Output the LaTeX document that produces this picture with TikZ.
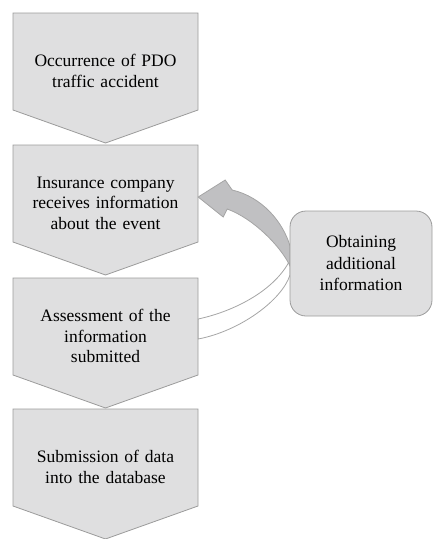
\documentclass[tikz,border=0pt]{standalone}
\usepackage{fontspec}
\setmainfont{Liberation Serif}
\usepackage{pgf,tikz}
\usetikzlibrary{backgrounds}

\definecolor{boxfill}{RGB}{223,223,224}
\definecolor{boxline}{RGB}{155,155,155}
\definecolor{bendfill}{RGB}{192,192,194}
\definecolor{bendline}{RGB}{165,165,165}

\tikzset{
  stepbox/.style={text width=170pt, inner sep=7.5pt, align=center,
    font=\fontsize{17.5}{20.5}\selectfont},
  chevron/.style={fill=boxfill, draw=boxline, line width=0.8pt},
  infobox/.style={fill=boxfill, draw=boxline, line width=0.8pt,
    rounded corners=16pt, minimum width=142pt, minimum height=105pt,
    align=center, font=\fontsize{17.5}{21.5}\selectfont}
}

\begin{document}
\begin{tikzpicture}[x=1pt,y=1pt]
  \useasboundingbox (0,0) rectangle (433,-539);

  \node[stepbox] (Occurrence) at (105.5,-71) {Occurrence of PDO\\ traffic accident};
  \node[stepbox] (Insurance) at (105.5,-203) {Insurance company\\ receives information\\ about the event};
  \node[stepbox] (Assessment) at (105.5,-336) {Assessment of the\\ information\\ submitted};
  \node[stepbox] (Submission) at (105.5,-467) {Submission of data\\ into the database};

  \begin{pgfonlayer}{background}
    \foreach \n in {Occurrence,Insurance,Assessment,Submission}
    \draw[chevron] ([shift={(-92.5,58)}]\n.center) -- ([shift={(92.5,58)}]\n.center)
      -- ([shift={(92.5,-39)}]\n.center) -- ([shift={(0,-72)}]\n.center)
      -- ([shift={(-92.5,-39)}]\n.center) -- cycle;
  \end{pgfonlayer}

  \coordinate (Back) at (290,-263.5);

  % band from the assessment out to the extra step
  \draw[fill=white, draw=bendline, line width=0.8pt]
    ([yshift=17]Assessment.east) .. controls +(37,8) and +(-15,-30) .. ([yshift=3.5]Back)
    -- ([yshift=-11.5]Back) .. controls +(-8,-25) and +(42,8) .. ([yshift=-3]Assessment.east)
    -- cycle;

  % arrow back to the insurance company
  \draw[fill=bendfill, draw=bendline, line width=0.8pt]
    ([yshift=17.5]Back) .. controls +(-7,24) and +(30,-7) .. ([shift={(34,13)}]Insurance.east)
    -- ([shift={(27,23)}]Insurance.east) -- ([yshift=6]Insurance.east)
    -- ([shift={(25,-14)}]Insurance.east) -- ([shift={(29,-6)}]Insurance.east)
    .. controls +(25,-9) and +(-10,21) .. ([yshift=-2.5]Back) -- cycle;

  \node[infobox] (Extra) at (361,-263.5) {Obtaining\\ additional\\ information};
\end{tikzpicture}
\end{document}
